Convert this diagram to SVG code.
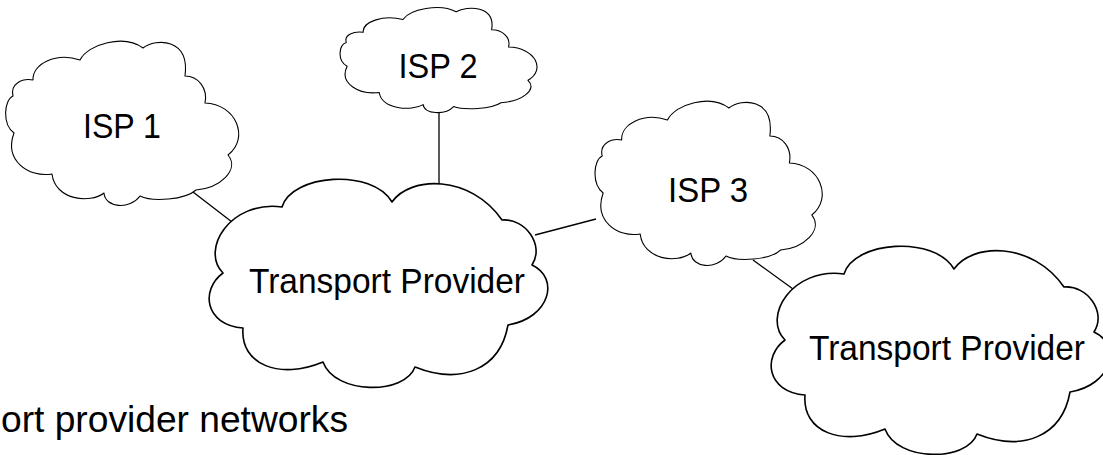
<svg xmlns="http://www.w3.org/2000/svg" xmlns:xlink="http://www.w3.org/1999/xlink" width="1103" height="455" viewBox="0 0 1103 455">
  <style>
    .cloud { fill: #ffffff; stroke: #000000; vector-effect: non-scaling-stroke; stroke-linejoin: round; }
    .isp { stroke-width: 1.1; }
    .tp { stroke-width: 1.6; }
    .label { font-family: "Liberation Sans", Arial, sans-serif; font-size: 35px; fill: #000000; text-anchor: middle; }
    .link { stroke: #000000; stroke-width: 1.3; fill: none; }
    .caption { font-family: "Liberation Sans", Arial, sans-serif; font-size: 37px; fill: #000000; }
  </style>
  <defs>
    <!-- small wavy cloud used for the ISPs -->
    <path id="ispShape" class="cloud isp" d="M 13,96 C 10,84 22,78 33,80 C 32,64 56,52 80,60 C 88,44 124,34 143,48 C 156,38 190,38 185,76 C 198,76 208,88 205,103 C 236,104 250,138 228,155 C 240,170 220,188 196,190 C 185,200 152,202 140,196 C 130,210 105,208 104,193 C 90,204 55,200 52,174 C 28,178 4,160 14,133 C 2,124 4,100 13,96 Z"/>
    <!-- large scalloped cloud used for the transport providers -->
    <path id="tpShape" class="cloud tp" d="M 223,273 C 200,250 230,200 282,207 C 292,174 372,168 392,202 C 410,176 470,174 502,220 C 525,218 545,245 532,265 C 560,278 550,318 508,325 C 500,370 460,385 415,367 C 405,395 335,395 323,362 C 280,380 240,365 243,328 C 205,325 200,290 223,273 Z"/>
  </defs>

  <!-- links between networks -->
  <g id="connectors">
    <line class="link" x1="193" y1="192" x2="232" y2="222"/>
    <line class="link" x1="439" y1="112" x2="439" y2="184"/>
    <line class="link" x1="535" y1="235" x2="596" y2="219"/>
    <line class="link" x1="753" y1="260" x2="793" y2="289"/>
  </g>

  <g id="isp1">
    <use xlink:href="#ispShape"/>
    <text class="label" x="122" y="138" textLength="78" lengthAdjust="spacingAndGlyphs">ISP 1</text>
  </g>

  <g id="isp2">
    <use xlink:href="#ispShape" transform="translate(335.3,-18.9) scale(0.845,0.64)"/>
    <text class="label" x="438" y="78" textLength="79" lengthAdjust="spacingAndGlyphs">ISP 2</text>
  </g>

  <g id="isp3">
    <use xlink:href="#ispShape" transform="translate(589.5,60) scale(0.975,1)"/>
    <text class="label" x="708" y="202" textLength="80" lengthAdjust="spacingAndGlyphs">ISP 3</text>
  </g>

  <g id="transport1">
    <use xlink:href="#tpShape"/>
    <text class="label" x="387" y="293" textLength="276" lengthAdjust="spacingAndGlyphs">Transport Provider</text>
  </g>

  <g id="transport2">
    <use xlink:href="#tpShape" transform="translate(562,67)"/>
    <text class="label" x="947" y="360" textLength="276" lengthAdjust="spacingAndGlyphs">Transport Provider</text>
  </g>

  <text class="caption" x="1" y="432" textLength="347" lengthAdjust="spacingAndGlyphs">ort provider networks</text>
</svg>
